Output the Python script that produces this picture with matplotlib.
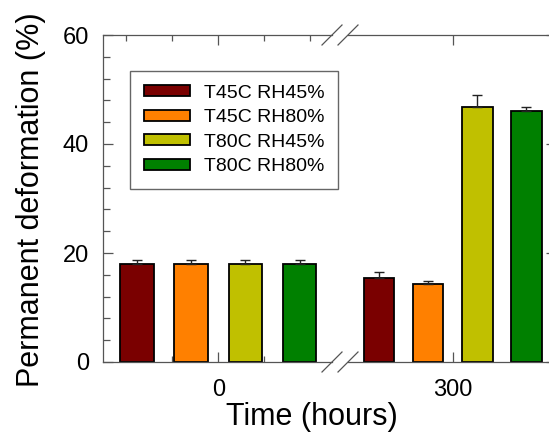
import matplotlib
matplotlib.use("Agg")
import matplotlib.pyplot as plt
import numpy as np
from matplotlib.lines import Line2D
from matplotlib.ticker import AutoMinorLocator, FixedLocator

plt.rcParams["font.family"] = ["Liberation Sans", "DejaVu Sans"]

# data
times = ["0", "300"]
series = ["T45C RH45%", "T45C RH80%", "T80C RH45%", "T80C RH80%"]
colors = ["#7a0000", "#ff8000", "#c0c000", "#008000"]
deform_45_45 = [18.0, 15.4]
deform_45_80 = [18.0, 14.3]
deform_80_45 = [18.0, 46.8]
deform_80_80 = [18.0, 46.1]
err_45_45 = [0.7, 1.1]
err_45_80 = [0.7, 0.6]
err_80_45 = [0.7, 2.2]
err_80_80 = [0.7, 0.7]

values = [deform_45_45, deform_45_80, deform_80_45, deform_80_80]
errors = [err_45_45, err_45_80, err_80_45, err_80_80]

W, H = 549, 437
SPINE = "#555555"


def px_box(x0, x1, ytop, ybot):
    return [x0 / W, 1 - ybot / H, (x1 - x0) / W, (ybot - ytop) / H]


fig = plt.figure(figsize=(W / 100, H / 100), dpi=100)
ax_l = fig.add_axes(px_box(103, 332, 35, 362))
ax_r = fig.add_axes(px_box(348, 556, 35, 362), sharey=ax_l)
axes = [ax_l, ax_r]

offsets = np.arange(len(series)) - (len(series) - 1) / 2
width = 0.62

for t, ax in enumerate(axes):
    ax.set_axisbelow(True)
    for i, name in enumerate(series):
        ax.bar(offsets[i], values[i][t], width, color=colors[i],
               edgecolor="black", linewidth=1.3, label=name,
               yerr=[[0], [errors[i][t]]], capsize=3.6,
               error_kw=dict(ecolor="#222222", elinewidth=1.0, capthick=1.0))
    ax.set_xlim(-2.13, 2.1)
    ax.set_xticks([0])
    ax.set_xticklabels([times[t]])
    for s in ax.spines.values():
        s.set_color(SPINE)
        s.set_linewidth(0.9)

ax_l.set_ylim(0, 60)
ax_l.set_yticks([0, 20, 40, 60])
ax_l.yaxis.set_minor_locator(AutoMinorLocator(5))
ax_l.xaxis.set_minor_locator(FixedLocator([-1.7, -0.85, 0.85, 1.7]))

ax_l.spines["right"].set_visible(False)
ax_r.spines["left"].set_visible(False)

for ax in axes:
    ax.tick_params(axis="x", which="major", direction="in", top=True,
                   length=7, width=0.9, color=SPINE, labelsize=17, pad=12)
    ax.tick_params(axis="x", which="minor", direction="in", top=True,
                   length=4, width=0.9, color=SPINE)
    ax.tick_params(axis="y", which="major", direction="in",
                   length=7.5, width=0.9, color=SPINE, labelsize=17, pad=10)
    ax.tick_params(axis="y", which="minor", direction="in",
                   length=5, width=0.9, color=SPINE)
ax_l.tick_params(axis="y", which="both", left=True, right=False)
ax_r.tick_params(axis="y", which="both", left=False, right=True,
                 labelleft=False)

# break marks on top and bottom axis lines
for yc in (35, 362):
    for xc in (332, 348):
        fig.add_artist(Line2D([(xc - 10) / W, (xc + 10) / W],
                              [1 - (yc + 10) / H, 1 - (yc - 10) / H],
                              color=SPINE, linewidth=0.9))

fig.text(31 / W, 1 - 200 / H, "Permanent deformation (%)", rotation=90,
         ha="center", va="center", fontsize=22)
fig.text(312 / W, 1 - 417 / H, "Time (hours)", ha="center", va="center",
         fontsize=22)

handles, labels = ax_l.get_legend_handles_labels()
fig.legend(handles, labels, loc="upper left",
           bbox_to_anchor=(130 / W, 1 - 71 / H), borderaxespad=0,
           fontsize=14, frameon=True, fancybox=False, framealpha=1,
           edgecolor="#666666", handlelength=2.4, handleheight=0.5,
           handletextpad=0.7, labelspacing=0.39, borderpad=0.7)

fig.savefig("out.png", dpi=100)
